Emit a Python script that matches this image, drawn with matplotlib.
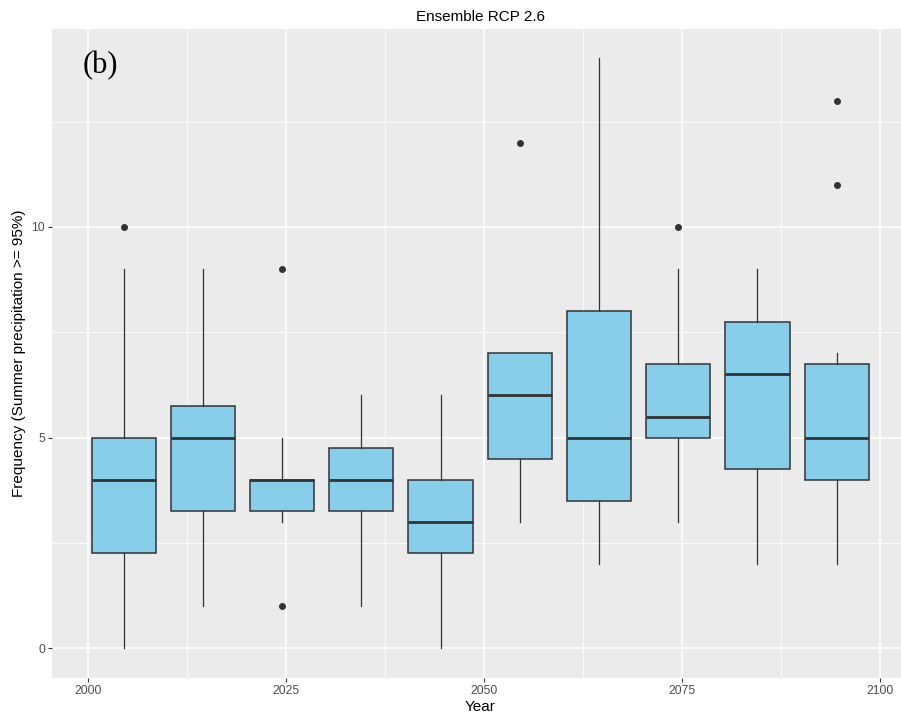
import matplotlib
matplotlib.use('Agg')
import matplotlib.pyplot as plt
from matplotlib.ticker import FixedLocator

# Decade centres (mean year of each 10-year block)
decades = [2004.5, 2014.5, 2024.5, 2034.5, 2044.5, 2054.5, 2064.5, 2074.5, 2084.5, 2094.5]

# Box statistics per decade
whisker_low = [0, 1, 3, 1, 0, 3, 2, 3, 2, 2]
q1 = [2.25, 3.25, 3.25, 3.25, 2.25, 4.5, 3.5, 5.0, 4.25, 4.0]
median = [4, 5, 4, 4, 3, 6, 5, 5.5, 6.5, 5]
q3 = [5.0, 5.75, 4.0, 4.75, 4.0, 7.0, 8.0, 6.75, 7.75, 6.75]
whisker_high = [9, 9, 5, 6, 6, 7, 14, 9, 9, 7]
outliers = [[10], [], [9, 1], [], [], [12], [], [10], [], [11, 13]]

x_ticks = [2000, 2025, 2050, 2075, 2100]
y_ticks = [0, 5, 10]

plt.rcParams['font.family'] = ['Liberation Sans', 'DejaVu Sans']

W, H = 901, 719
fig = plt.figure(figsize=(W / 100, H / 100), dpi=100)
# panel runs a bit past the right edge of the canvas
left, right, top, bottom = 52.3, 908.0, 29.0, 677.7
ax = fig.add_axes([left / W, (H - bottom) / H, (right - left) / W, (bottom - top) / H])

ax.set_facecolor('#EBEBEB')
for s in ax.spines.values():
    s.set_visible(False)

stats = []
for i in range(len(decades)):
    stats.append(dict(med=median[i], q1=q1[i], q3=q3[i],
                      whislo=whisker_low[i], whishi=whisker_high[i],
                      fliers=outliers[i]))

edge = '#333333'
ax.bxp(stats, positions=decades, widths=8.1, patch_artist=True, showcaps=False,
       boxprops=dict(facecolor='#87CEEB', edgecolor=edge, linewidth=1.1),
       medianprops=dict(color=edge, linewidth=2.0, solid_capstyle='butt'),
       whiskerprops=dict(color=edge, linewidth=0.9),
       flierprops=dict(marker='o', markersize=4, markerfacecolor=edge,
                       markeredgecolor=edge, linestyle='none'),
       zorder=3)

ax.set_xlim(1995.5, 2103.5)
ax.set_ylim(-0.7, 14.7)

ax.xaxis.set_major_locator(FixedLocator(x_ticks))
ax.yaxis.set_major_locator(FixedLocator(y_ticks))
ax.xaxis.set_minor_locator(FixedLocator([2012.5, 2037.5, 2062.5, 2087.5]))
ax.yaxis.set_minor_locator(FixedLocator([2.5, 7.5, 12.5]))
ax.set_xticklabels([str(t) for t in x_ticks])
ax.set_yticklabels([str(t) for t in y_ticks])

ax.grid(which='major', color='white', linewidth=1.1)
ax.grid(which='minor', color='white', linewidth=0.55)
ax.set_axisbelow(True)

ax.tick_params(which='major', length=2.75, width=0.8, color=edge,
               labelsize=8.8, labelcolor='#4D4D4D', pad=2.4)
ax.tick_params(which='minor', length=0)

ax.set_title('Ensemble RCP 2.6', fontsize=11, pad=5.8)
ax.set_xlabel('Year', fontsize=11)
ax.set_ylabel('Frequency (Summer precipitation >= 95%)', fontsize=11)
ax.xaxis.set_label_coords(0.5, (bottom - 700) / (bottom - top))
ax.yaxis.set_label_coords((26 - left) / (right - left), 0.5)

ax.text(2001.6, 13.64, '(b)', fontsize=22, family='Liberation Serif',
        ha='center', va='baseline', zorder=4)

fig.savefig('out.png', dpi=100)
